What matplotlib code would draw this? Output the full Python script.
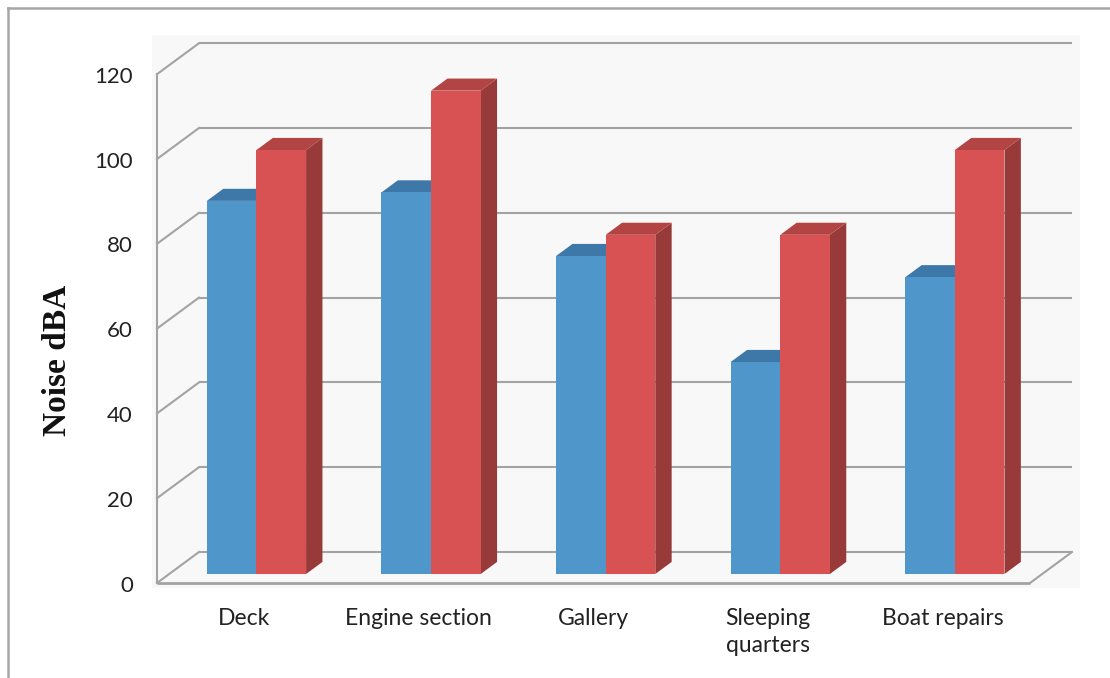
import matplotlib
matplotlib.use("Agg")
import matplotlib.pyplot as plt
from matplotlib.patches import Polygon, Rectangle
from matplotlib.lines import Line2D

# ---------------- data ----------------
categories = ["Deck", "Engine section", "Gallery", "Sleeping\nquarters", "Boat repairs"]
series_blue = [88, 90, 75, 50, 70]
series_red = [100, 114, 80, 80, 100]
y_ticks = [0, 20, 40, 60, 80, 100, 120]
y_label = "Noise dBA"

# ---------------- styles / layout ----------------
W_PX, H_PX = 1110, 678
X0_PX, CAT_PX = 244.3, 174.6        # pixel x of category 0 centre (front), px per category
Y0_PX, VAL_PX = 583.0, 4.24         # pixel y of value 0 (front), px per value unit
DX, DY = 42 / CAT_PX, 31 / VAL_PX   # full depth offset in data units
F0, FD = 0.29, 0.39                 # bar front depth fraction, bar depth fraction
BAR_W = 49.6 / CAT_PX

blue_front, blue_top, blue_side = "#4f96ca", "#3e78a8", "#356a96"
red_front, red_top, red_side = "#d95253", "#b24543", "#983a39"
grid_c = "#a3a3a3"
bg_c = "#f8f8f8"
text_c = "#222222"

def px_x(px):
    return (px - X0_PX) / CAT_PX

def px_y(py):
    return (Y0_PX - py) / VAL_PX

fig = plt.figure(figsize=(W_PX / 100, H_PX / 100), dpi=100)
ax = fig.add_axes([0, 0, 1, 1])
ax.set_xlim(px_x(0), px_x(W_PX))
ax.set_ylim(px_y(H_PX), px_y(0))
ax.axis("off")

# outer frame (top and left visible)
fig.add_artist(Line2D([7.5 / W_PX, 1.0], [1 - 7.5 / H_PX, 1 - 7.5 / H_PX],
                      transform=fig.transFigure, color="#a6a6a6", lw=1.8))
fig.add_artist(Line2D([7.5 / W_PX, 7.5 / W_PX], [0, 1 - 7.5 / H_PX],
                      transform=fig.transFigure, color="#a6a6a6", lw=1.8))

# plot area background
ax.add_patch(Rectangle((px_x(152), px_y(588)), px_x(1080) - px_x(152),
                       px_y(35) - px_y(588), facecolor=bg_c, edgecolor="none", zorder=0))

n = len(categories)
xmin, xmax = -0.5, n - 0.5
ymax = y_ticks[-1]

# walls and grid
glw = 1.5
for v in y_ticks:
    ax.plot([xmin + DX, xmax + DX], [v + DY, v + DY], color=grid_c, lw=glw, zorder=1,
            solid_capstyle="butt")
    ax.plot([xmin, xmin + DX], [v, v + DY], color=grid_c, lw=glw, zorder=1)
ax.plot([xmin, xmin], [0, ymax], color=grid_c, lw=glw, zorder=1)
ax.plot([xmin, xmax], [0, 0], color=grid_c, lw=2.0, zorder=1, solid_capstyle="butt")
ax.plot([xmax, xmax + DX], [0, DY], color=grid_c, lw=glw, zorder=1)

# 3D bars
def bar3d(x_left, value, c_front, c_top, c_side, z):
    b = F0 * DY
    xl = x_left + F0 * DX
    xr = xl + BAR_W
    ox, oy = FD * DX, FD * DY
    top = value + b
    ax.add_patch(Polygon([(xr, b), (xr, top), (xr + ox, top + oy), (xr + ox, b + oy)],
                         closed=True, facecolor=c_side, edgecolor="none", zorder=z))
    ax.add_patch(Polygon([(xl, top), (xr, top), (xr + ox, top + oy), (xl + ox, top + oy)],
                         closed=True, facecolor=c_top, edgecolor="none", zorder=z))
    ax.bar([xl], [value], width=BAR_W, bottom=b, align="edge", color=c_front,
           edgecolor="none", zorder=z + 0.5)

for i in range(n):
    bar3d(i - BAR_W, series_blue[i], blue_front, blue_top, blue_side, 2 + i * 2)
    bar3d(i, series_red[i], red_front, red_top, red_side, 3 + i * 2)

# tick labels
for v in y_ticks:
    ax.text(px_x(133), v - 0.6, str(v), ha="right", va="center", fontsize=16,
            family="Lato", color=text_c)

for i, c in enumerate(categories):
    ax.text(i, px_y(608), c, ha="center", va="top", fontsize=16.5, family="Lato",
            color=text_c, linespacing=1.36)

ax.text(px_x(57), px_y(360), y_label, rotation=90, ha="center", va="center",
        fontsize=24, family="Liberation Serif", fontweight="bold", color="#111111")

fig.savefig("out.png", dpi=100)
